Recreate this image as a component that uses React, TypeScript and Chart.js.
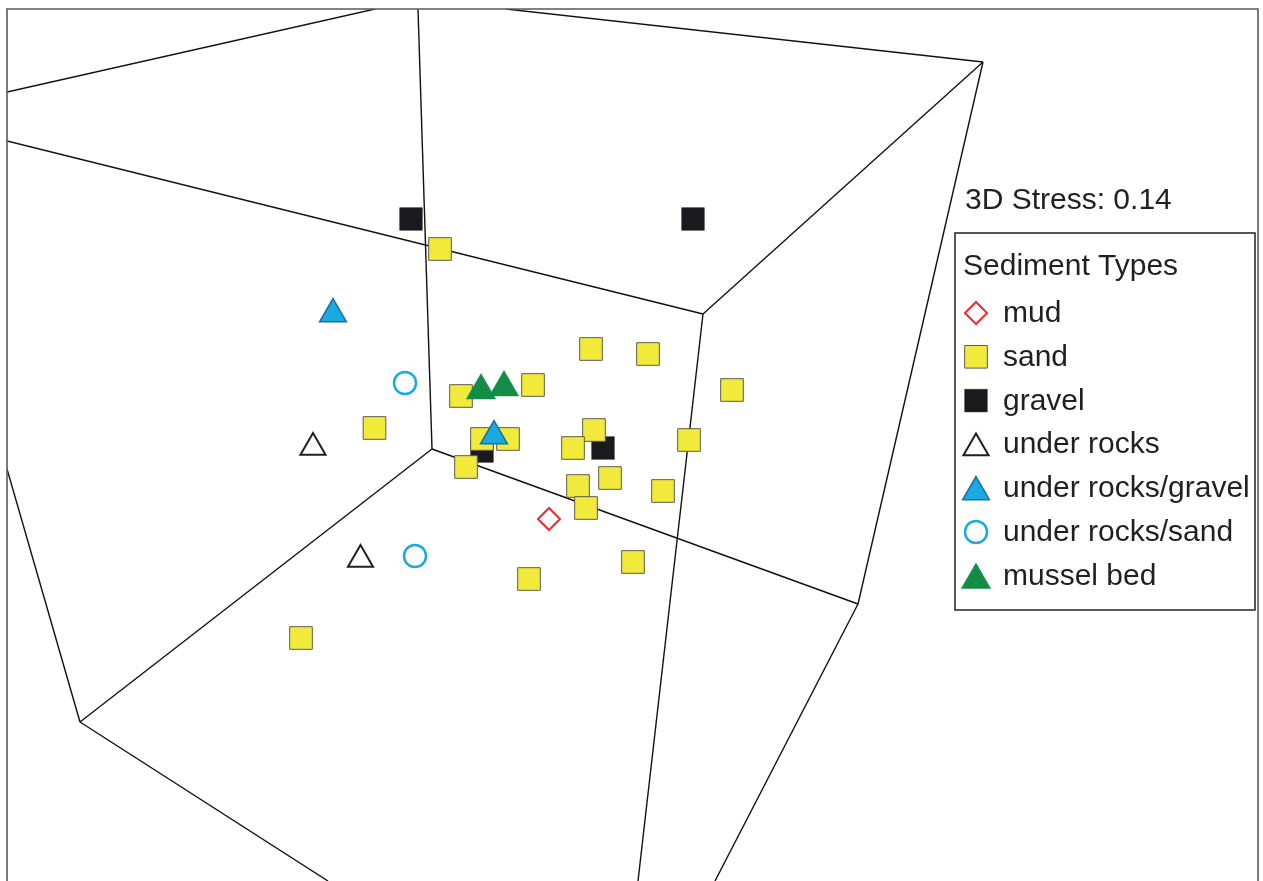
import React, { useEffect, useRef } from 'react';
import { Chart, registerables } from 'chart.js';
import { drawPoint } from 'chart.js/helpers';

Chart.register(...registerables);

const CANVAS_W = 1263;
const CANVAS_H = 881;

// ---- Data (plot units of the projected 3D nMDS ordination) ----
const stressLabel = '3D Stress: 0.14';
const legendTitle = 'Sediment Types';

// Edges of the projected bounding cube: [x1, y1, x2, y2]
const cubeEdges: number[][] = [
  [7, 92, 375, 9],
  [7, 141, 703, 314],
  [418, 9, 432, 449],
  [506, 9, 983, 62],
  [983, 62, 703, 314],
  [983, 62, 858, 604],
  [432, 449, 858, 604],
  [858, 604, 715, 881],
  [703, 314, 638, 881],
  [432, 449, 80, 722],
  [7, 469, 80, 722],
  [80, 722, 328, 881],
];

const mudX = [549];
const mudY = [519];

const sandX = [440, 591, 648, 461, 533, 732, 374.5, 482, 508, 594, 573, 689, 466, 610, 578, 663, 586, 633, 529, 301];
const sandY = [249, 349, 354, 396, 385, 390, 428, 439, 439, 430, 448, 440, 467, 478, 486, 491, 508, 562, 579, 638];

const gravelX = [411, 693, 482, 603];
const gravelY = [219, 219, 451, 448];

const underRocksX = [313, 360.5];
const underRocksY = [447.5, 559.5];

const underRocksGravelX = [333, 494];
const underRocksGravelY = [314, 436];

const underRocksSandX = [405, 415];
const underRocksSandY = [383, 556];

const musselBedX = [481, 504];
const musselBedY = [390.5, 387.5];

const toPoints = (xs: number[], ys: number[]) => xs.map((x, i) => ({ x, y: ys[i] }));

const FONT = '"Liberation Sans", Arial, Helvetica, sans-serif';
const TEXT_COLOR = '#231f20';

const decorPlugin = {
  id: 'mdsDecor',
  afterDraw(chart: any) {
    const { ctx, chartArea } = chart;
    ctx.save();
    // plot frame (open at the bottom, as cropped)
    ctx.strokeStyle = '#5a5a5a';
    ctx.lineWidth = 1.6;
    ctx.beginPath();
    ctx.moveTo(chartArea.left, CANVAS_H + 5);
    ctx.lineTo(chartArea.left, chartArea.top);
    ctx.lineTo(chartArea.right, chartArea.top);
    ctx.lineTo(chartArea.right, CANVAS_H + 5);
    ctx.stroke();

    // stress annotation
    ctx.fillStyle = TEXT_COLOR;
    ctx.font = `30px ${FONT}`;
    ctx.textBaseline = 'alphabetic';
    ctx.textAlign = 'left';
    ctx.fillText(stressLabel, 965, 209);

    // legend box
    ctx.fillStyle = '#ffffff';
    ctx.fillRect(955, 233, 300, 377);
    ctx.strokeStyle = '#231f20';
    ctx.lineWidth = 1.5;
    ctx.strokeRect(955, 233, 300, 377);

    ctx.fillStyle = TEXT_COLOR;
    ctx.fillText(legendTitle, 963, 275);

    const items = chart.data.datasets.filter((d: any) => d.legendRank !== undefined)
      .sort((a: any, b: any) => a.legendRank - b.legendRank);
    items.forEach((d: any, i: number) => {
      const baseline = 322 + i * 43.8;
      const cy = baseline - 9;
      const r = d.pointRadius;
      const py = d.pointStyle === 'triangle' ? cy + r / 4 : cy;
      ctx.save();
      ctx.fillStyle = d.backgroundColor;
      ctx.strokeStyle = d.borderColor;
      ctx.lineWidth = d.borderWidth;
      drawPoint(ctx, { pointStyle: d.pointStyle, rotation: 0, radius: r, borderWidth: d.borderWidth }, 976, py);
      ctx.restore();
      ctx.fillStyle = TEXT_COLOR;
      ctx.font = `30px ${FONT}`;
      ctx.fillText(d.label, 1003, baseline);
    });
    ctx.restore();
  },
};

export default function App() {
  const canvasRef = useRef<HTMLCanvasElement | null>(null);

  useEffect(() => {
    if (!canvasRef.current) return;

    const edgeDatasets = cubeEdges.map((e, i) => ({
      type: 'scatter' as const,
      label: `edge${i}`,
      data: [{ x: e[0], y: e[1] }, { x: e[2], y: e[3] }],
      showLine: true,
      borderColor: '#111111',
      borderWidth: 1.4,
      pointRadius: 0,
      fill: false,
      order: 10,
    }));

    const cat = (label: string, xs: number[], ys: number[], style: any, rank: number, order: number) => ({
      type: 'scatter' as const,
      label,
      data: toPoints(xs, ys),
      showLine: false,
      order,
      legendRank: rank,
      ...style,
    });

    const chart = new Chart(canvasRef.current, {
      type: 'scatter',
      data: {
        datasets: [
          ...edgeDatasets,
          cat('mud', mudX, mudY, {
            pointStyle: 'rectRot', pointRadius: 11, backgroundColor: 'rgba(255,255,255,0)',
            borderColor: '#ee2b2e', borderWidth: 2,
          }, 0, 1),
          cat('sand', sandX, sandY, {
            pointStyle: 'rect', pointRadius: 16, backgroundColor: '#f2ea3a',
            borderColor: '#5e5b4a', borderWidth: 1,
          }, 1, 4),
          cat('gravel', gravelX, gravelY, {
            pointStyle: 'rect', pointRadius: 16, backgroundColor: '#1a191e',
            borderColor: '#1a191e', borderWidth: 0.5,
          }, 2, 5),
          cat('under rocks', underRocksX, underRocksY, {
            pointStyle: 'triangle', pointRadius: 14.5, backgroundColor: 'rgba(255,255,255,0)',
            borderColor: '#231f20', borderWidth: 2,
          }, 3, 2),
          cat('under rocks/gravel', underRocksGravelX, underRocksGravelY, {
            pointStyle: 'triangle', pointRadius: 15.5, backgroundColor: '#1ba9e1',
            borderColor: '#1f6e9b', borderWidth: 1.5,
          }, 4, 1),
          cat('under rocks/sand', underRocksSandX, underRocksSandY, {
            pointStyle: 'circle', pointRadius: 11, backgroundColor: 'rgba(255,255,255,0)',
            borderColor: '#1ba9e1', borderWidth: 2.5,
          }, 5, 2),
          cat('mussel bed', musselBedX, musselBedY, {
            pointStyle: 'triangle', pointRadius: 17, backgroundColor: '#128c47',
            borderColor: '#128c47', borderWidth: 0.5,
          }, 6, 1),
        ] as any,
      },
      options: {
        responsive: false,
        maintainAspectRatio: false,
        animation: false,
        events: [],
        layout: { autoPadding: false, padding: { left: 7, top: 9, right: 5, bottom: 0 } },
        scales: {
          x: { type: 'linear', min: 7, max: 1258, display: false },
          y: { type: 'linear', min: 9, max: 881, reverse: true, display: false },
        },
        plugins: {
          legend: { display: false },
          tooltip: { enabled: false },
        },
      },
      plugins: [decorPlugin],
    });

    return () => chart.destroy();
  }, []);

  return (
    <div style={{ position: 'fixed', left: 0, top: 0, width: CANVAS_W, height: CANVAS_H, background: '#ffffff' }}>
      <canvas ref={canvasRef} width={CANVAS_W} height={CANVAS_H} style={{ width: CANVAS_W, height: CANVAS_H, display: 'block' }} />
    </div>
  );
}
